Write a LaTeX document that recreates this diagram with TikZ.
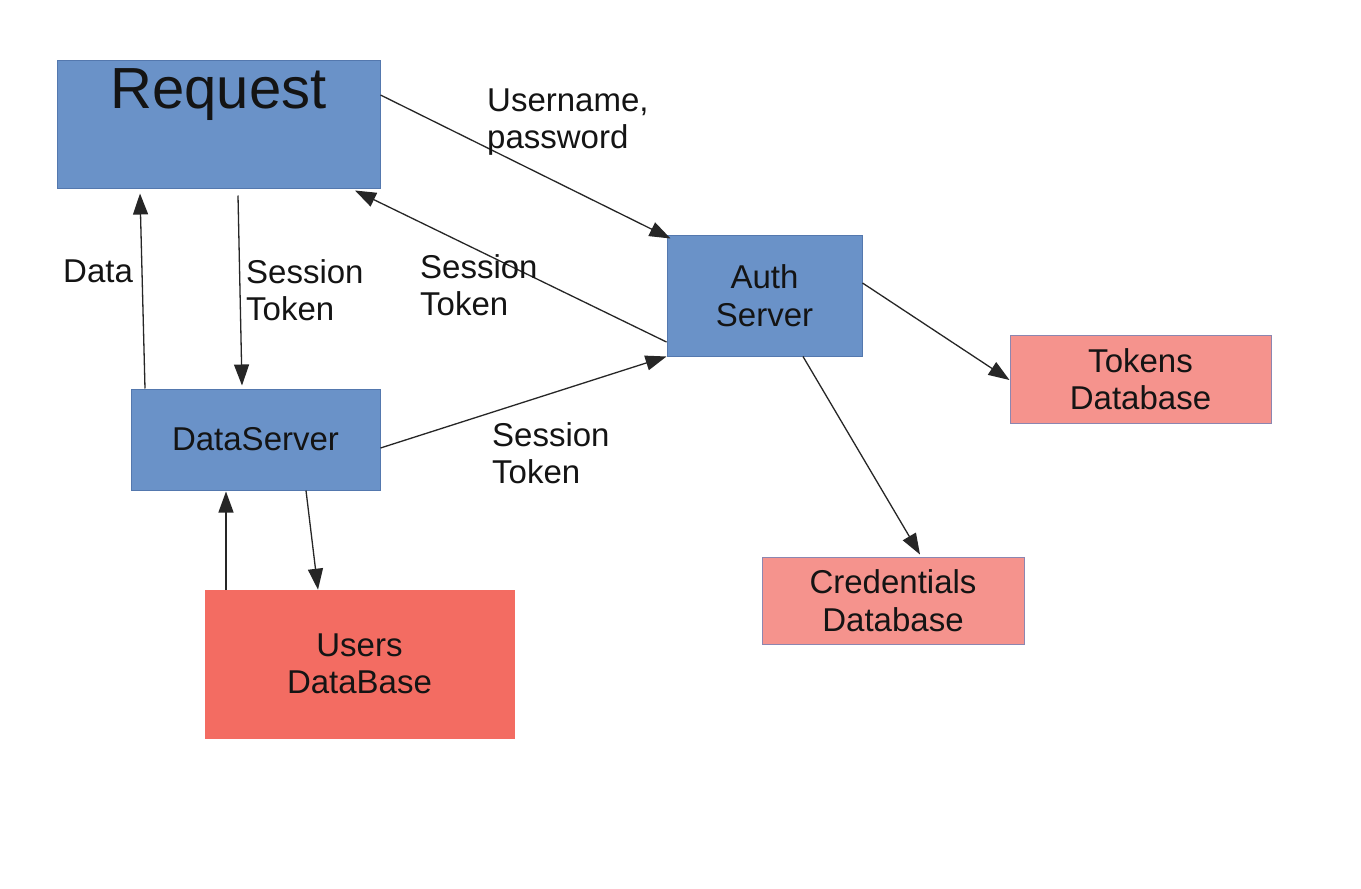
\documentclass[tikz,border=0pt]{standalone}
\usepackage{fontspec}
\setmainfont{Liberation Sans}
\usetikzlibrary{arrows.meta,calc}
\definecolor{boxblue}{HTML}{6A92C8}
\definecolor{boxblueline}{HTML}{5478AE}
\definecolor{dbred}{HTML}{F36C62}
\definecolor{dbpink}{HTML}{F5938D}
\definecolor{dbpinkline}{HTML}{8C86B0}
\definecolor{txt}{HTML}{141414}
\tikzset{
  bluebox/.style={draw=boxblueline, line width=1pt, fill=boxblue, text=txt, align=center, inner sep=0pt, font=\fontsize{33}{37.5}\selectfont},
  userbox/.style={draw=dbred, line width=0.6pt, fill=dbred, text=txt, align=center, inner sep=0pt, font=\fontsize{33}{37.5}\selectfont},
  pinkbox/.style={draw=dbpinkline, line width=1pt, fill=dbpink, text=txt, align=center, inner sep=0pt, font=\fontsize{33}{37.5}\selectfont},
  lbl/.style={anchor=west, align=left, inner sep=0pt, text=txt, font=\fontsize{33}{37.5}\selectfont},
  conn/.style={draw=black!85, line width=1.3pt, -{Triangle[length=21pt,width=15pt]}}
}
\begin{document}
\begin{tikzpicture}[x=1pt,y=-1pt]
\useasboundingbox[fill=white] (0,0) rectangle (1361,889);
% boxes
\node[bluebox, minimum width=323, minimum height=128] (req) at (218.5,124) {};
\node[anchor=base, inner sep=0pt, text=txt, font=\fontsize{58}{64}\selectfont] (reqtxt) at (218.5,108) {Request};
\node[bluebox, minimum width=249, minimum height=101] (ds) at (255.5,439.5) {DataServer};
\node[bluebox, minimum width=195, minimum height=121] (auth) at (764.5,295.5) {Auth\\Server};
\node[pinkbox, minimum width=261, minimum height=88] (tok) at (1140.5,379) {Tokens\\Database};
\node[pinkbox, minimum width=262, minimum height=87] (cred) at (893,600.5) {Credentials\\Database};
\node[userbox, minimum width=309, minimum height=148] (users) at (359.5,664) {Users\\DataBase};
% connectors
\draw[conn] ([yshift=29pt]req.east) -- ([xshift=4pt,yshift=-4pt]auth.north west);
\draw[conn] ([yshift=-46.5pt]auth.west) -- ([xshift=136.5pt,yshift=-2pt]req.south);
\draw[conn] ([xshift=19.5pt,yshift=-7pt]req.south) -- ([xshift=-13.5pt,yshift=3pt]ds.north);
\draw[conn] ([xshift=-110.5pt]ds.north) -- ([xshift=-78.5pt,yshift=-5pt]req.south);
\draw[conn] ([yshift=-8.5pt]ds.east) -- (auth.south west);
\draw[conn] ([xshift=50.5pt]ds.south) -- ([xshift=-41.5pt]users.north);
\draw[conn] ([xshift=-133.5pt]users.north) -- ([xshift=-29.5pt,yshift=-1pt]ds.south);
\draw[conn] ([yshift=12.5pt]auth.east) -- ([yshift=-1pt]tok.west);
\draw[conn] ([xshift=38.5pt]auth.south) -- ([xshift=27pt,yshift=2pt]cred.north);
% labels
\node[lbl] (l1) at (487,122) {Username,\\password};
\node[lbl] (l2) at (246,290) {Session\\Token};
\node[lbl] (l3) at (420,285) {Session\\Token};
\node[lbl] (l4) at (63,271.5) {Data};
\node[lbl] (l5) at (492,453) {Session\\Token};
\end{tikzpicture}
\end{document}
